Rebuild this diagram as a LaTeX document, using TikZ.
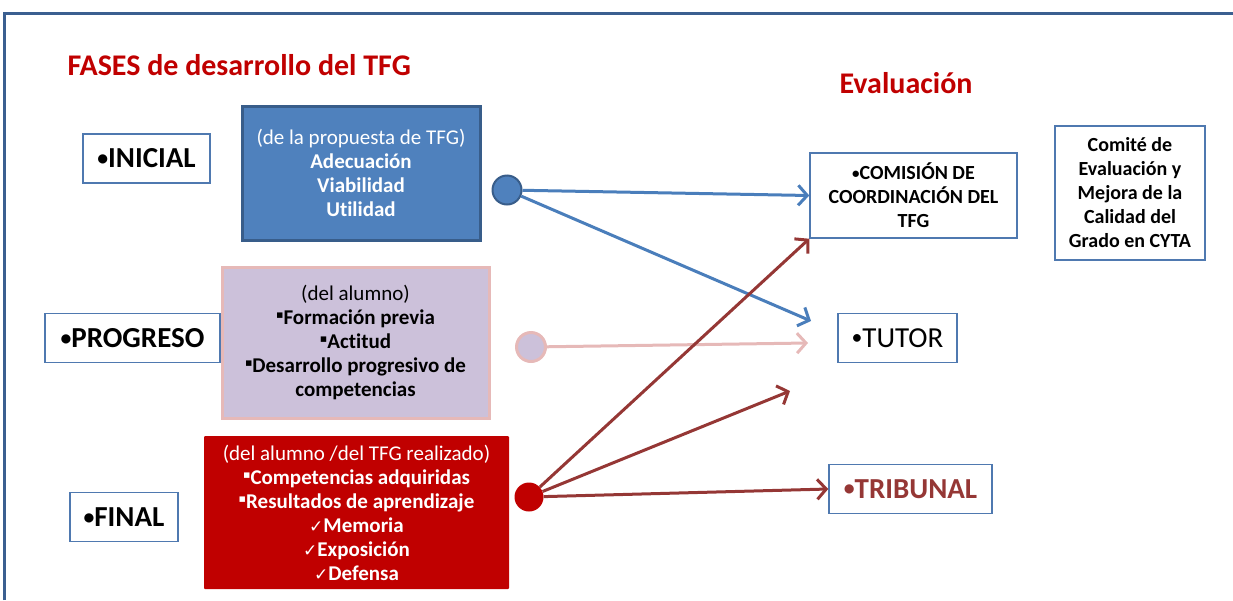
\documentclass[tikz,border=0pt]{standalone}
\usepackage{fontspec}
\setmainfont{Carlito}[Ligatures=NoCommon]
\newfontfamily\symfont{DejaVu Sans}
\usetikzlibrary{arrows.meta}
\newcommand{\sqbullet}{\raisebox{6pt}{\symfont\fontsize{11}{11}\selectfont ▪}}
\newcommand{\okmark}{{\symfont\fontsize{17}{17}\selectfont ✓}}
\newcommand{\bul}{\raisebox{0.08em}{\scalebox{0.75}{•}}}
\begin{document}
\begin{tikzpicture}[x=1pt,y=-1pt,
  phase/.style={draw=boxline, line width=1.5pt, fill=white, minimum height=49pt, inner sep=0pt, font=\fontsize{29}{32}\selectfont\bfseries},
  evalbox/.style={draw=boxline, line width=1.5pt, fill=white, inner sep=0pt, align=center, font=\fontsize{20}{24}\selectfont\bfseries},
  infobox/.style={line width=3pt, inner sep=0pt, align=center, font=\fontsize{21}{24}\selectfont},
  dot/.style={circle, minimum size=29pt, inner sep=0pt},
  conn/.style={line width=3pt, -{Straight Barb[length=9pt,width=20pt]}},
  heading/.style={text=titlered, font=\fontsize{30}{34}\selectfont\bfseries}]
\definecolor{frameblue}{HTML}{3B5F90}
\definecolor{boxline}{HTML}{4F79B0}
\definecolor{bluefill}{HTML}{4F81BD}
\definecolor{bluedark}{HTML}{385D8A}
\definecolor{arrblue}{HTML}{4A7EBB}
\definecolor{lilac}{HTML}{CCC1DA}
\definecolor{rose}{HTML}{E6B9B8}
\definecolor{redfill}{HTML}{C00000}
\definecolor{darkred}{HTML}{953735}
\definecolor{titlered}{HTML}{C00000}
\useasboundingbox (0,0) rectangle (1233,600);
\draw[frameblue, line width=3pt] (4,600) -- (4,13.5) -- (1233,13.5);
\node[heading, anchor=west] (fases) at (64,65) {FASES de desarrollo del TFG};
\node[heading] (evaluacion) at (906,83) {Evaluación};
\node[phase, minimum width=127pt] (inicial) at (146.5,158.5) {\bul INICIAL};
\node[phase, minimum width=175pt] (progreso) at (132.5,338) {\bul PROGRESO};
\node[phase, minimum width=108pt] (final) at (124,517) {\bul FINAL};
\node[infobox, draw=bluedark, fill=bluefill, text=white, minimum width=238pt, minimum height=134pt] (propuesta) at (361,173) {(de la propuesta de TFG)\\\textbf{Adecuación}\\\textbf{Viabilidad}\\\textbf{Utilidad}};
\node[infobox, draw=rose, fill=lilac, minimum width=267pt, minimum height=151pt] (alumno) at (355.5,342.5) {(del alumno)\\\sqbullet\textbf{Formación previa}\\\sqbullet\textbf{Actitud}\\\sqbullet\textbf{Desarrollo progresivo de}\\\textbf{competencias}};
\node[infobox, fill=redfill, text=white, minimum width=305pt, minimum height=153pt, rounded corners=1pt] (realizado) at (356.5,512.5) {(del alumno /del TFG realizado)\\\sqbullet\textbf{Competencias adquiridas}\\\sqbullet\textbf{Resultados de aprendizaje}\\\okmark\textbf{Memoria}\\\okmark\textbf{Exposición}\\\okmark\textbf{Defensa}};
\node[dot, draw=bluedark, line width=2pt, fill=bluefill] (cblue) at (507,190) {};
\node[dot, draw=rose, line width=3pt, fill=lilac] (cpink) at (531,347) {};
\node[dot, fill=redfill] (cred) at (529,497) {};
\node[evalbox, minimum width=207pt, minimum height=85pt] (comision) at (913.5,195.5) {\bul COMISIÓN DE\\COORDINACIÓN DEL\\TFG};
\node[evalbox, minimum width=150pt, minimum height=134pt] (comite) at (1130,193) {Comité de\\Evaluación y\\Mejora de la\\Calidad del\\Grado en CYTA};
\node[phase, minimum width=119pt, font=\fontsize{29}{32}\selectfont] (tutor) at (897.5,338) {\bul TUTOR};
\node[phase, minimum width=163pt, text=darkred] (tribunal) at (910.5,489) {\bul TRIBUNAL};
\coordinate (tutorA) at (811,321);
\coordinate (tutorB) at (808,343);
\coordinate (libre) at (790,391);
\draw[conn, arrblue] (cblue) -- (comision.west);
\draw[conn, arrblue] (cblue) -- (tutorA);
\draw[conn, rose] (cpink) -- (tutorB);
\draw[conn, darkred] (cred) -- (comision.south west);
\draw[conn, darkred] (cred) -- (libre);
\draw[conn, darkred] (cred) -- (tribunal.west);
\end{tikzpicture}
\end{document}
